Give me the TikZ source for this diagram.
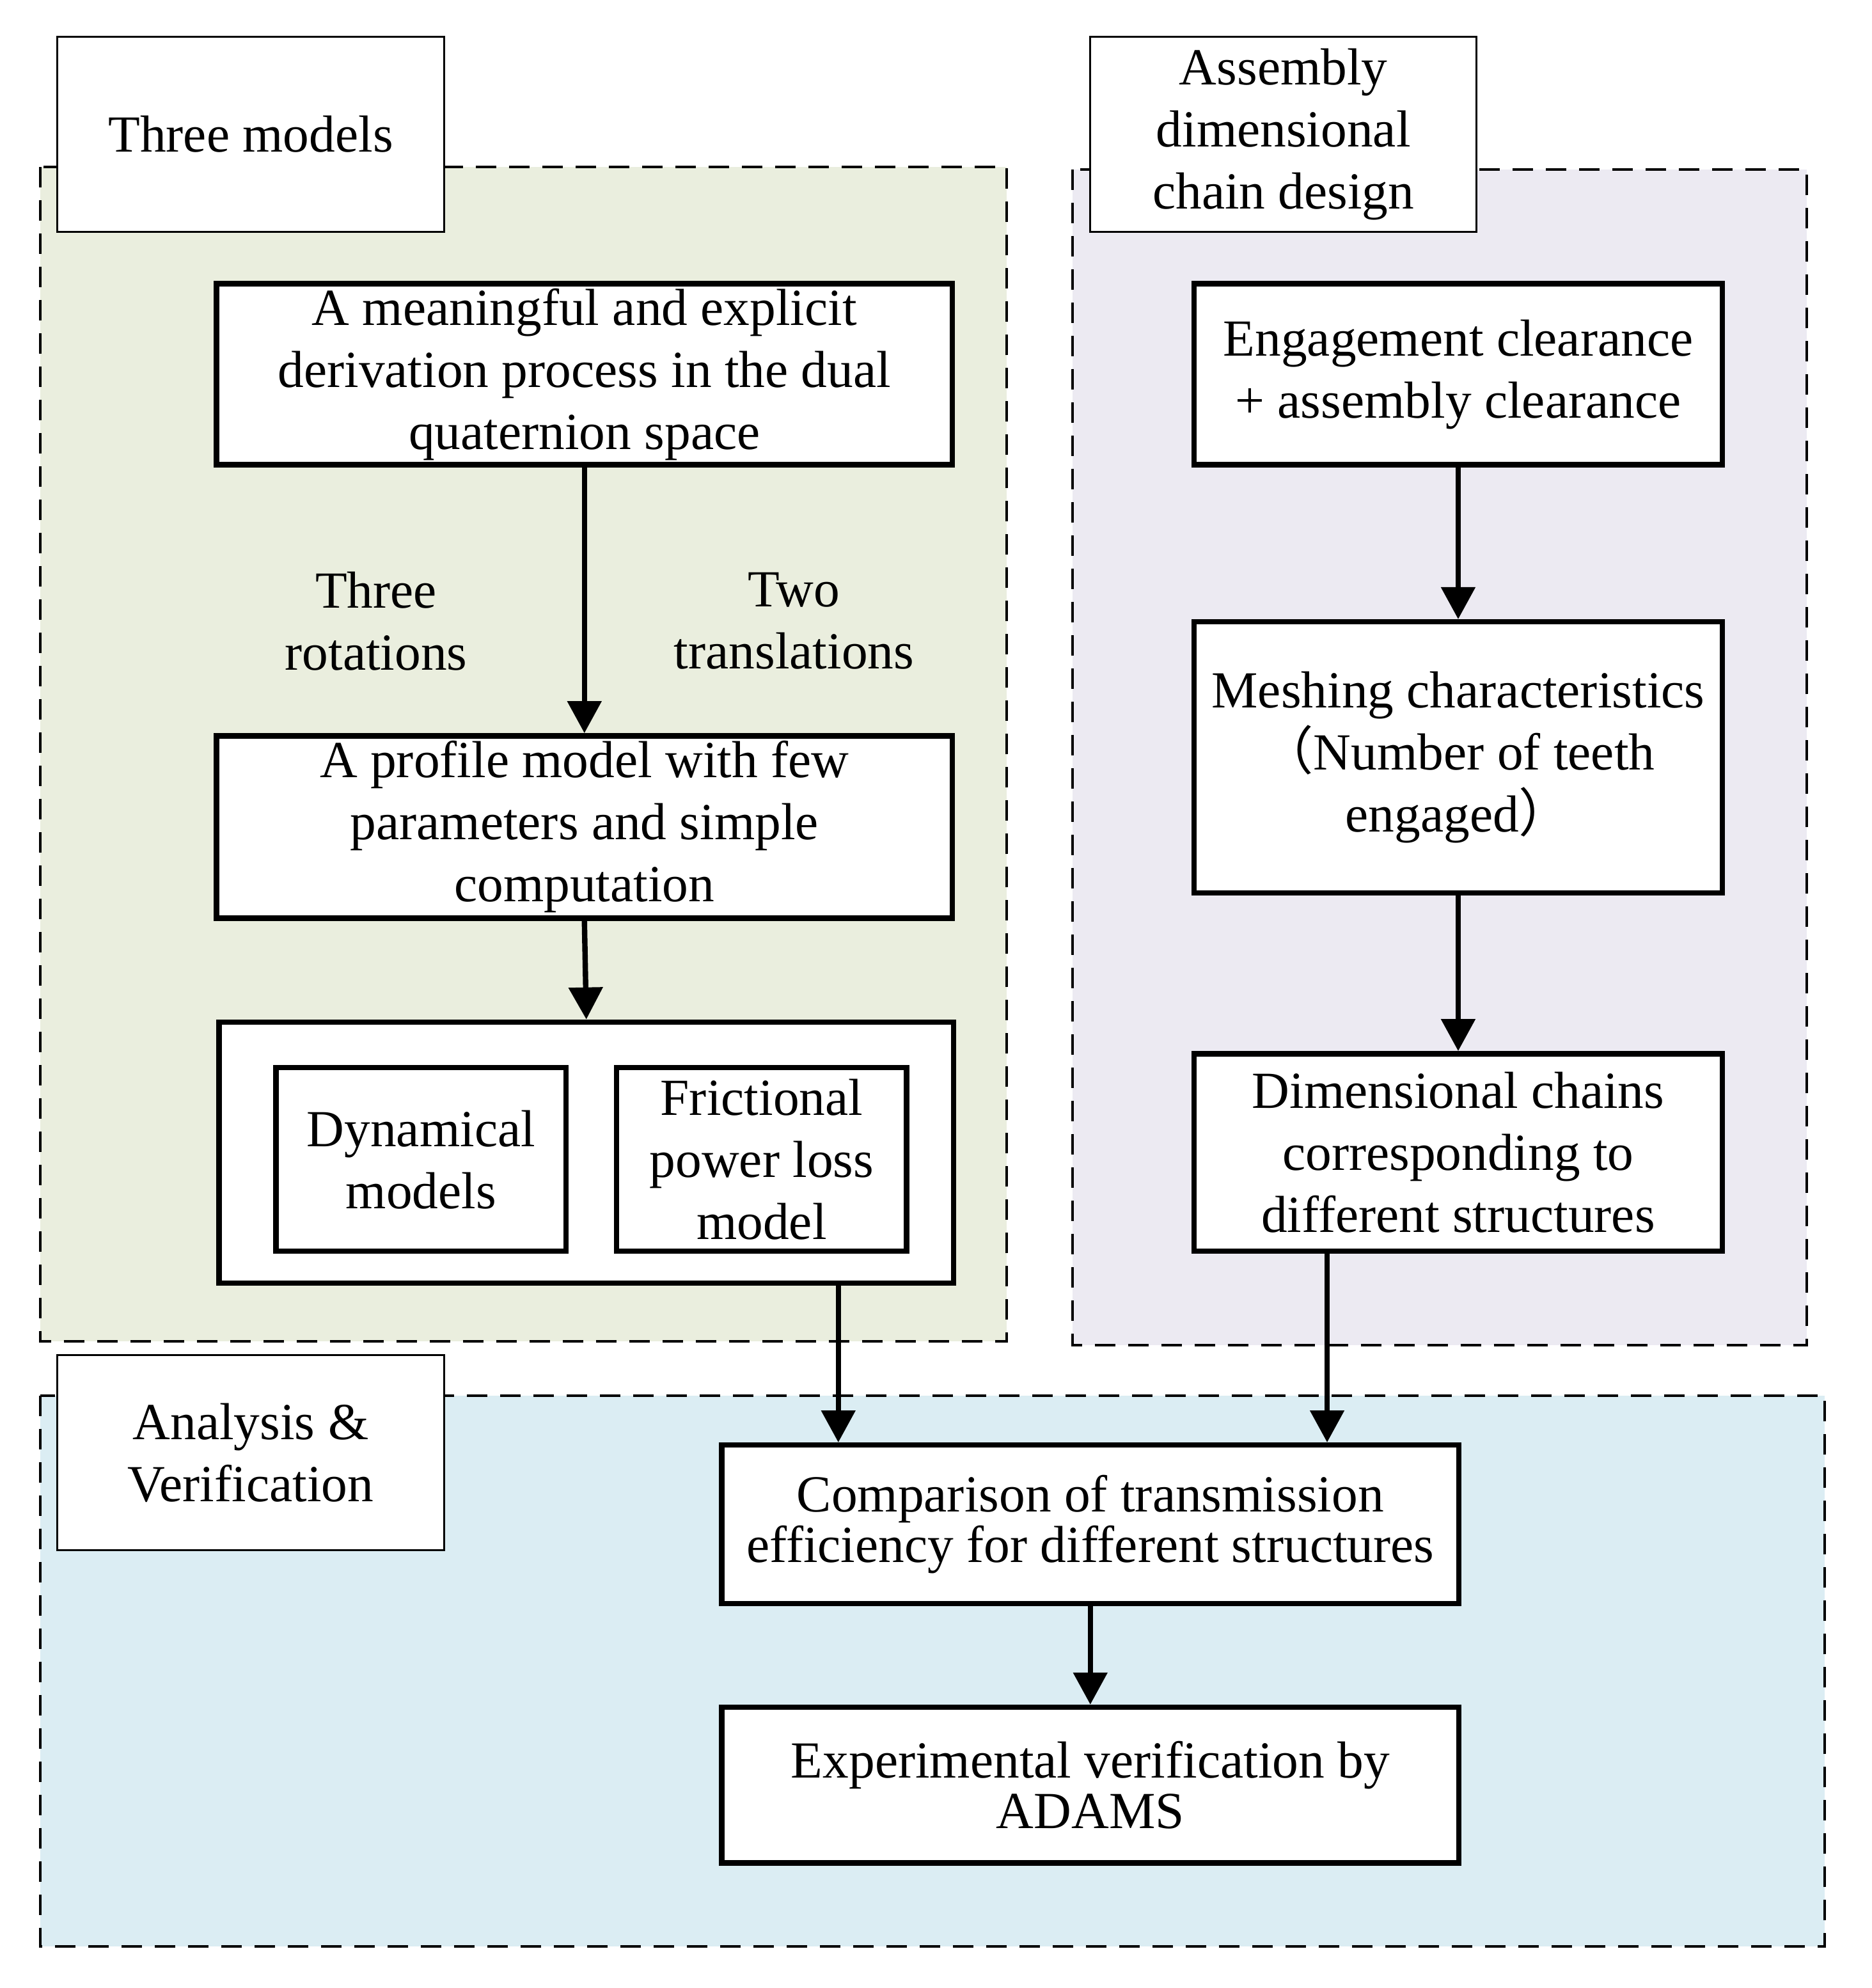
\documentclass[tikz,border=0pt]{standalone}
\usepackage{fontspec}
\setmainfont{Liberation Serif}
\newfontfamily\cjk{Noto Sans CJK SC}
\usetikzlibrary{arrows.meta}
\definecolor{greenbg}{RGB}{234,238,222}
\definecolor{purplebg}{RGB}{236,234,242}
\definecolor{bluebg}{RGB}{219,237,243}
\tikzset{
  region/.style={draw=black, line width=2pt, dash pattern=on 16pt off 10pt},
  wh/.style 2 args={minimum width={0.99*#1pt}, minimum height={0.99*#2pt}},
  labelbox/.style={draw=black, fill=white, line width=1.5pt, align=center, inner sep=0pt},
  mainbox/.style={draw=black, fill=white, line width=4.2pt, align=center, inner sep=0pt},
  plain/.style={align=center, inner sep=0pt},
  arr/.style={line width=4.2pt, -{Triangle[length=25pt,width=26pt]}},
}
\begin{document}
\begin{tikzpicture}[x=0.99pt,y=-0.99pt, font=\fontsize{40.7}{48.5}\selectfont]
\useasboundingbox (0,0) rectangle (1477.8,1569.7);
% regions
\filldraw[region, fill=greenbg] (32,132) rectangle (795,1059);
\filldraw[region, fill=purplebg] (847,134) rectangle (1427,1062);
\filldraw[region, fill=bluebg] (32,1102) rectangle (1441,1537);
% label boxes
\node[labelbox, wh={306}{154}] (lab1) at (198,106) {Three models};
\node[labelbox, wh={305}{154}] (lab2) at (1013.5,106) {Assembly\\dimensional\\chain design};
\node[labelbox, wh={306}{154}] (lab3) at (198,1147) {Analysis \&\\Verification};
% left column
\node[mainbox, wh={581}{143}] (deriv) at (461.5,295.5) {A meaningful and explicit\\derivation process in the dual\\quaternion space};
\node[plain] (rot) at (297,490.5) {Three\\rotations};
\node[plain] (trans) at (627,490.5) {Two\\translations};
\node[mainbox, wh={581}{144}] (profile) at (461.5,653) {A profile model with few\\parameters and simple\\computation};
\node[mainbox, wh={580}{206}] (outer) at (463,910) {};
\node[mainbox, wh={229}{145}] (dyn) at (332.5,915.5) {Dynamical\\models};
\node[mainbox, wh={229}{145}] (fric) at (601.5,915.5) {Frictional\\power loss\\model};
% right column
\node[mainbox, wh={417}{143}] (eng) at (1151.5,295.5) {Engagement clearance\\+ assembly clearance};
\node[mainbox, wh={417}{214}] (mesh) at (1151.5,598) {Meshing characteristics\\{\cjk （}Number of teeth\\engaged{\cjk ）}};
\node[mainbox, wh={417}{156}] (dim) at (1151.5,910) {Dimensional chains\\corresponding to\\different structures};
% bottom
\node[mainbox, wh={582}{125}, font=\fontsize{40.7}{39.6}\selectfont] (comp) at (861,1203.5) {Comparison of transmission\\efficiency for different structures};
\node[mainbox, wh={582}{123}, font=\fontsize{40.7}{39.6}\selectfont] (exp) at (861,1409.5) {Experimental verification by\\ADAMS};
% arrows
\draw[arr] (deriv.south) -- (profile.north);
\draw[arr] (profile.south) -- (outer.north);
\draw[arr] (outer.south -| 662,0) -- (comp.north -| 662,0);
\draw[arr] (eng.south) -- (mesh.north);
\draw[arr] (mesh.south) -- (dim.north);
\draw[arr] (dim.south -| 1048,0) -- (comp.north -| 1048,0);
\draw[arr] (comp.south) -- (exp.north);
\end{tikzpicture}
\end{document}
